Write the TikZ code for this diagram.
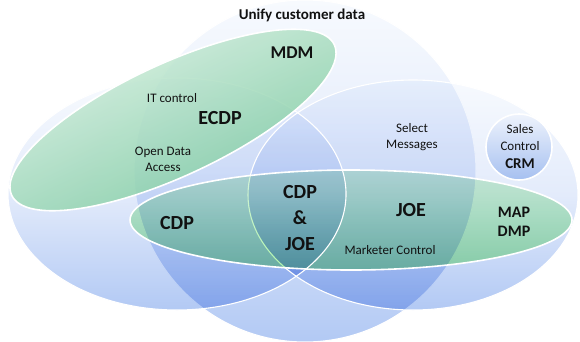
\documentclass[tikz,border=0pt]{standalone}
\usepackage{fontspec}
\setmainfont{Carlito}
\definecolor{bluetop}{HTML}{F7FAFE}
\definecolor{bluemid}{HTML}{E3EBFB}
\definecolor{bluebot}{HTML}{B2C9F4}
\definecolor{grtop}{HTML}{D6F4DA}
\definecolor{grbot}{HTML}{B0F4AE}
\definecolor{gtop}{HTML}{DBF1E4}
\definecolor{gbot}{HTML}{72C797}
\definecolor{crmtop}{HTML}{EEF3FC}
\definecolor{crmbot}{HTML}{A6C0F0}
\definecolor{txt}{HTML}{111111}
\tikzset{
  bluefill/.style={top color=bluetop, bottom color=bluebot, middle color=bluemid, blend mode=multiply},
  greenfill/.style={top color=grtop, bottom color=grbot, blend mode=multiply},
  thinwhite/.style={draw=white, line width=1.1pt},
  thickwhite/.style={draw=white, line width=1.6pt},
  small/.style={font=\fontsize{13}{16}\selectfont, text=txt, align=center, inner sep=0pt},
  big/.style={font=\fontsize{20}{26}\selectfont\bfseries, text=txt, align=center, inner sep=0pt},
  mid/.style={font=\fontsize{16}{19}\selectfont\bfseries, text=txt, align=center, inner sep=0pt}
}
\begin{document}
\begin{tikzpicture}[x=1pt,y=-1pt]
\useasboundingbox (0,0) rectangle (580,341);
% big circle
\shade[bluefill] (305,171) circle [radius=171];
\draw[thinwhite] (305,171) circle [radius=171];
% left and right ellipses
\shade[bluefill] (177,194) ellipse [x radius=169, y radius=116];
\shade[bluefill] (413,195) ellipse [x radius=165, y radius=115];
\draw[thinwhite] (413,195) ellipse [x radius=165, y radius=115];
% small CRM circle
\shade[top color=crmtop, bottom color=crmbot] (519,147) circle [radius=33];
\draw[thickwhite] (519,147) circle [radius=33];
% green bottom ellipse
\shade[greenfill] (351,220) ellipse [x radius=221, y radius=50];
\draw[thinwhite] (177,194) ellipse [x radius=169, y radius=116];
\draw[thickwhite] (351,220) ellipse [x radius=221, y radius=50];
% green top ellipse
\shade[top color=gtop, bottom color=gbot, shading angle=25, fill opacity=0.85, rotate around={25:(173,120)}] (173,120) ellipse [x radius=178, y radius=56];
\draw[thickwhite, rotate around={25:(173,120)}] (173,120) ellipse [x radius=178, y radius=56];
% texts
\node[small, font=\fontsize{15}{18}\selectfont\bfseries] (unify) at (302,15) {Unify customer data};
\node[big, font=\fontsize{18}{22}\selectfont\bfseries] (mdm) at (292,53) {MDM};
\node[small] (itc) at (172,98) {IT control};
\node[big] (ecdp) at (220,118) {ECDP};
\node[small] (oda) at (163,159) {Open Data\\Access};
\node[big] (cdp) at (177,223) {CDP};
\node[big] (both) at (300,218) {CDP\\\&\\JOE};
\node[big] (joe) at (411,210) {JOE};
\node[small] (mkt) at (390,250) {Marketer Control};
\node[mid] (map) at (514,222) {MAP\\DMP};
\node[small] (sel) at (412,137) {Select\\Messages};
\node[small, font=\fontsize{13}{17}\selectfont] (sales) at (520,138) {Sales\\Control};
\node[mid, font=\fontsize{15}{18}\selectfont\bfseries] (crm) at (520,164) {CRM};
\end{tikzpicture}
\end{document}
